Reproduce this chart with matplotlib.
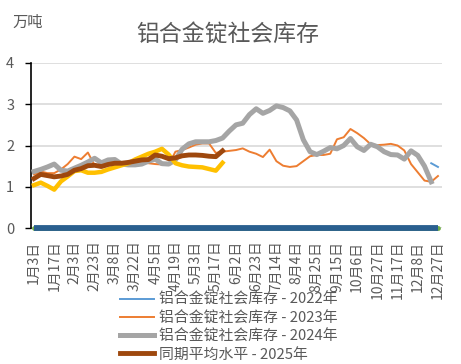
import matplotlib.pyplot as plt

plt.rcParams['font.family'] = ['Noto Sans CJK SC', 'DejaVu Sans']

# category axis (label every 3rd point)
tick_labels = ["1月3日", "1月17日", "2月3日", "2月23日", "3月8日", "3月22日", "4月5日",
               "4月19日", "5月3日", "5月17日", "6月2日", "6月23日", "7月14日", "8月4日",
               "8月25日", "9月15日", "10月6日", "10月27日", "11月17日", "12月8日", "12月27日"]
n_points = 61

# 万吨
stock_2022 = [None] * 59 + [1.57, 1.48]
stock_2023 = [1.30, 1.37, 1.33, 1.33, 1.42, 1.55, 1.73, 1.67, 1.83, 1.52,
              1.52, 1.55, 1.58, 1.60, 1.55, 1.60, 1.59, 1.57, 1.55, 1.54,
              1.53, 1.85, 1.89, 1.95, 2.02, 2.05, 2.05, 1.82, 1.85, 1.87,
              1.89, 1.93, 1.85, 1.80, 1.72, 1.90, 1.62, 1.51, 1.48, 1.50,
              1.62, 1.74, 1.77, 1.77, 1.80, 2.15, 2.20, 2.40, 2.30, 2.18,
              2.03, 2.01, 2.02, 2.04, 2.00, 1.88, 1.55, 1.35, 1.15, 1.12, 1.26]
stock_2024 = [1.37, 1.42, 1.48, 1.55, 1.40, 1.38, 1.45, 1.52, 1.60, 1.69,
              1.58, 1.65, 1.66, 1.55, 1.53, 1.53, 1.55, 1.62, 1.67, 1.56,
              1.55, 1.65, 1.91, 2.04, 2.09, 2.09, 2.09, 2.12, 2.18, 2.35,
              2.50, 2.54, 2.75, 2.89, 2.78, 2.85, 2.96, 2.92, 2.84, 2.62,
              2.14, 1.85, 1.78, 1.86, 1.95, 1.92, 2.00, 2.17, 1.97, 1.88,
              2.03, 1.97, 1.85, 1.78, 1.77, 1.67, 1.87, 1.76, 1.50, 1.12]
stock_2025 = [1.04, 1.10, 1.02, 0.93, 1.13, 1.25, 1.38, 1.40, 1.34, 1.34,
              1.36, 1.42, 1.47, 1.52, 1.57, 1.66, 1.73, 1.80, 1.85, 1.92,
              1.78, 1.57, 1.52, 1.49, 1.48, 1.47, 1.43, 1.39, 1.58]
avg_2025 = [1.20, 1.30, 1.27, 1.24, 1.26, 1.30, 1.40, 1.44, 1.51, 1.52,
            1.49, 1.54, 1.57, 1.57, 1.59, 1.62, 1.65, 1.66, 1.77, 1.74,
            1.68, 1.70, 1.75, 1.77, 1.77, 1.76, 1.74, 1.73, 1.87]
zero_series = [0] * n_points

x = list(range(n_points))
grey_txt = '#595959'

fig = plt.figure(figsize=(4.61, 3.64), dpi=100)
ax = fig.add_axes([31 / 461, 1 - 228 / 364, (442 - 31) / 461, (228 - 63) / 364])

ax.plot(x, zero_series, color='#70AD47', lw=3.5, solid_capstyle='round', clip_on=False, zorder=2)
ax.plot(x, zero_series, color='#2A5F8F', lw=4.2, solid_capstyle='butt', clip_on=False, zorder=3)
ax.plot(x, stock_2022, color='#5B9BD5', lw=1.4, label='铝合金锭社会库存 - 2022年', zorder=4)
ax.plot(x, stock_2023, color='#ED7D31', lw=1.4, label='铝合金锭社会库存 - 2023年', zorder=4)
ax.plot(range(len(stock_2024)), stock_2024, color='#A5A5A5', lw=3.6,
        label='铝合金锭社会库存 - 2024年', zorder=5)
ax.plot(range(len(stock_2025)), stock_2025, color='#FFC000', lw=3.2, zorder=5)
ax.plot(range(len(avg_2025)), avg_2025, color='#9E480E', lw=3.5, label='同期平均水平 - 2025年', zorder=6)

ax.set_xlim(-0.45, 60.6)
ax.set_ylim(0, 4)
ax.set_yticks([0, 1, 2, 3, 4])
ax.set_xticks(range(0, n_points, 3))
ax.set_xticklabels(tick_labels, rotation=90, fontsize=10, color=grey_txt)
ax.tick_params(axis='x', length=0, pad=9)
ax.tick_params(axis='y', labelsize=10.5, labelcolor=grey_txt, length=4, width=1, pad=8)
ax.grid(axis='y', color='#D9D9D9', lw=1.2)
ax.set_axisbelow(True)
for s in ['top', 'right', 'bottom']:
    ax.spines[s].set_visible(False)
ax.spines['left'].set_color('black')
ax.spines['left'].set_linewidth(1.2)

fig.text(228 / 461, 1 - 35 / 364, '铝合金锭社会库存', ha='center', va='center', fontsize=16.5, color=grey_txt)
fig.text(12 / 461, 1 - 22 / 364, '万吨', ha='left', va='center', fontsize=11, color=grey_txt)

fig.legend(loc='upper left', bbox_to_anchor=(120 / 461, 1 - 293 / 364), frameon=False,
           fontsize=10.7, handlelength=2.3, handletextpad=0.3, labelspacing=0.27,
           borderpad=0, borderaxespad=0, labelcolor=grey_txt)

fig.savefig('out.png', dpi=100)
